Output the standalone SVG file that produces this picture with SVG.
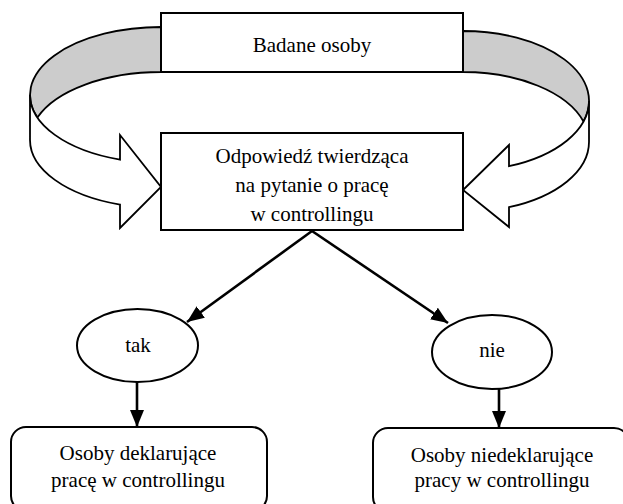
<svg xmlns="http://www.w3.org/2000/svg" width="623" height="504" viewBox="0 0 623 504">
<style>
.box{fill:#fff;stroke:#000;stroke-width:2}
.rib{stroke:#000;stroke-width:1.8;stroke-linejoin:miter}
.back{fill:#cccccc}
.front{fill:#fff}
.t{font-family:'Liberation Serif','Times New Roman',Tinos,'DejaVu Serif',serif;font-size:21px;fill:#000;text-anchor:middle}
.con{stroke:#000;stroke-width:2.6;fill:none}
</style>
<defs>
<marker id="ah" markerUnits="userSpaceOnUse" markerWidth="18" markerHeight="14" refX="17" refY="7" orient="auto">
<path d="M0,0 L17,7 L0,14 Z" fill="#000"/>
</marker>
</defs>
<g id="ribbon-left">
<path class="rib back" d="M161,27 A131 68 0 0 0 37.4,117.5 A131 68 0 0 1 161,72 Z"/>
<path class="rib front" d="M30,95 A131 68 0 0 0 120,159.6 L120,135 L161,187 L120,228 L120,204.6 A131 68 0 0 1 30,140 Z"/>
</g>
<g id="ribbon-right">
<path class="rib back" d="M463,31 A126 70 0 0 1 583.5,121.5 A126 70 0 0 0 463,72 Z"/>
<path class="rib front" d="M589,101 A126 70 0 0 1 509,166.2 L509,145 L463,190 L509,227 L509,207.2 A126 70 0 0 0 589,142 Z"/>
</g>
<g id="badane">
<rect class="box" x="161" y="13" width="302" height="59"/>
<text class="t" x="312" y="52" font-family="Liberation Serif, serif">Badane osoby</text>
</g>
<g id="odpowiedz">
<rect class="box" x="161" y="133" width="302" height="97"/>
<text class="t" x="312" y="163">Odpowiedź twierdząca</text>
<text class="t" x="312" y="192">na pytanie o pracę</text>
<text class="t" x="312" y="221">w controllingu</text>
</g>
<g id="tak">
<ellipse class="box" cx="137.5" cy="345.5" rx="60.5" ry="36.5"/>
<text class="t" x="138" y="352">tak</text>
</g>
<g id="nie">
<ellipse class="box" cx="492" cy="352" rx="60" ry="37"/>
<text class="t" x="492" y="357">nie</text>
</g>
<g id="deklarujace">
<rect class="box" x="11" y="427" width="256" height="84" rx="15"/>
<text class="t" x="138" y="460">Osoby deklarujące</text>
<text class="t" x="138" y="487">pracę w controllingu</text>
</g>
<g id="niedeklarujace">
<rect class="box" x="373" y="428" width="256" height="84" rx="15"/>
<text class="t" x="502" y="462">Osoby niedeklarujące</text>
<text class="t" x="502" y="487">pracy w controllingu</text>
</g>
<g id="connectors">
<line class="con" x1="312" y1="231" x2="187" y2="322" marker-end="url(#ah)"/>
<line class="con" x1="312" y1="231" x2="448" y2="323" marker-end="url(#ah)"/>
<line class="con" x1="137" y1="382" x2="137" y2="427" marker-end="url(#ah)"/>
<line class="con" x1="499" y1="389" x2="499" y2="428" marker-end="url(#ah)"/>
</g>
</svg>
